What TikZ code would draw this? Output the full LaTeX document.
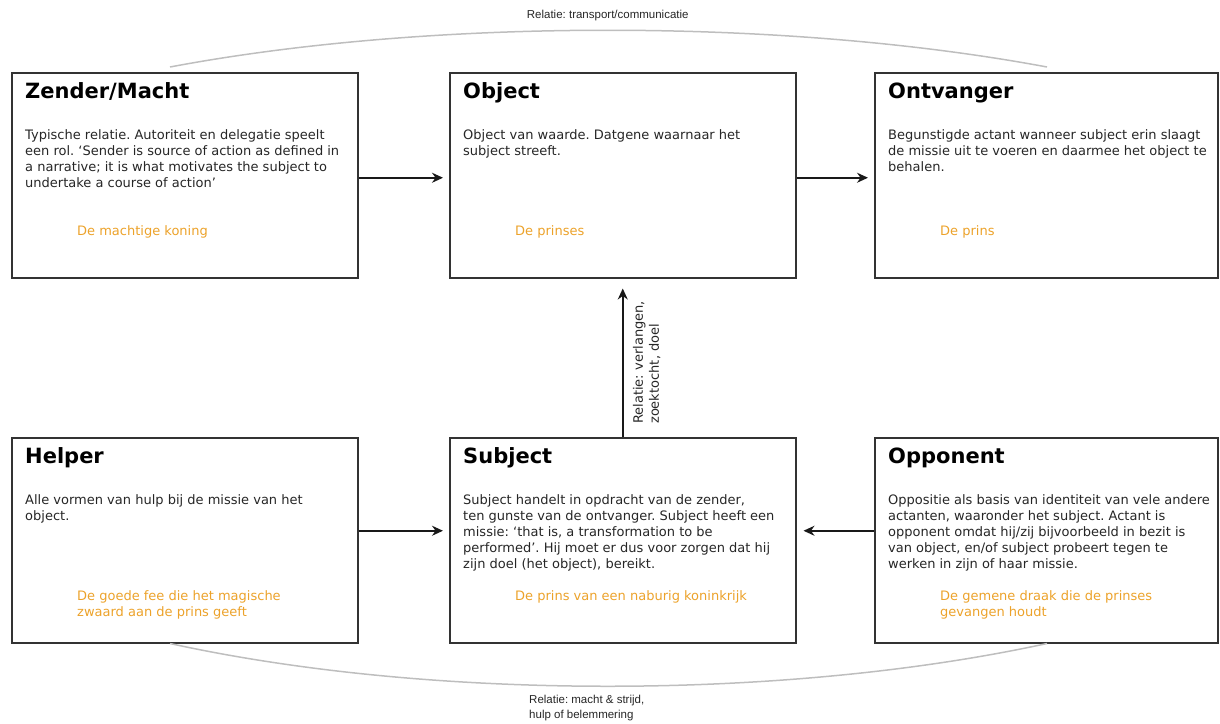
\documentclass[tikz,border=0pt]{standalone}
\usepackage{fontspec}
\setmainfont{DejaVu Sans}
\newfontfamily\relatiefont{Liberation Sans}
\usepackage{tikz}
\usetikzlibrary{arrows.meta, positioning, calc}
\definecolor{roloranje}{RGB}{236,162,42}
\definecolor{kader}{RGB}{51,51,51}
\definecolor{boog}{RGB}{190,190,190}
\frenchspacing
\newcommand{\regels}[1]{\parbox[t]{360pt}{\raggedright\fontsize{13}{16}\selectfont #1}}
\tikzstyle{actant} = [draw=kader, line width=1.5pt, minimum width=346pt, minimum height=205pt, anchor=north west, inner sep=0pt]
\tikzstyle{titel} = [anchor=base west, inner sep=0pt, font=\fontsize{21}{25}\selectfont\bfseries]
\tikzstyle{omschrijving} = [anchor=base west, inner sep=0pt, text=black!85]
\tikzstyle{rol} = [anchor=base west, inner sep=0pt, text=roloranje]
\tikzstyle{pijl} = [-{Stealth[length=11pt, width=10pt]}, line width=1.5pt, black!90]
\tikzstyle{relatie} = [boog, line width=1.5pt]
\tikzstyle{relatielabel} = [font=\relatiefont\fontsize{11.5}{15}\selectfont, text=black!85, inner sep=0pt]

\begin{document}
\begin{tikzpicture}[x=1pt, y=-1pt]
    \useasboundingbox (0,0) rectangle (1220,723);

    % Bovenste rij
    \node[actant] (zender) at (11,72) {};
    \node[actant] (object) at (449,72) {};
    \node[actant, minimum width=343pt] (ontvanger) at (874,72) {};

    % Onderste rij
    \node[actant] (helper) at (11,437) {};
    \node[actant] (subject) at (449,437) {};
    \node[actant, minimum width=343pt] (opponent) at (874,437) {};

    % Zender/Macht
    \node[titel] (zenderT) at ($(zender.north west)+(14,26)$) {Zender/Macht};
    \node[omschrijving] (zenderO) at ($(zender.north west)+(14,67)$) {\regels{Typische relatie. Autoriteit en delegatie speelt\\een rol. ‘Sender is source of action as defined in\\a narrative; it is what motivates the subject to\\undertake a course of action’}};
    \node[rol] (zenderR) at ($(zender.north west)+(66,163)$) {\regels{De machtige koning}};

    % Object
    \node[titel] (objectT) at ($(object.north west)+(14,26)$) {Object};
    \node[omschrijving] (objectO) at ($(object.north west)+(14,67)$) {\regels{Object van waarde. Datgene waarnaar het\\subject streeft.}};
    \node[rol] (objectR) at ($(object.north west)+(66,163)$) {\regels{De prinses}};

    % Ontvanger
    \node[titel] (ontvangerT) at ($(ontvanger.north west)+(14,26)$) {Ontvanger};
    \node[omschrijving] (ontvangerO) at ($(ontvanger.north west)+(14,67)$) {\regels{Begunstigde actant wanneer subject erin slaagt\\de missie uit te voeren en daarmee het object te\\behalen.}};
    \node[rol] (ontvangerR) at ($(ontvanger.north west)+(66,163)$) {\regels{De prins}};

    % Helper
    \node[titel] (helperT) at ($(helper.north west)+(14,26)$) {Helper};
    \node[omschrijving] (helperO) at ($(helper.north west)+(14,67)$) {\regels{Alle vormen van hulp bij de missie van het\\object.}};
    \node[rol] (helperR) at ($(helper.north west)+(66,163)$) {\regels{De goede fee die het magische\\zwaard aan de prins geeft}};

    % Subject
    \node[titel] (subjectT) at ($(subject.north west)+(14,26)$) {Subject};
    \node[omschrijving] (subjectO) at ($(subject.north west)+(14,67)$) {\regels{Subject handelt in opdracht van de zender,\\ten gunste van de ontvanger. Subject heeft een\\missie: ‘that is, a transformation to be\\performed’. Hij moet er dus voor zorgen dat hij\\zijn doel (het object), bereikt.}};
    \node[rol] (subjectR) at ($(subject.north west)+(66,163)$) {\regels{De prins van een naburig koninkrijk}};

    % Opponent
    \node[titel] (opponentT) at ($(opponent.north west)+(14,26)$) {Opponent};
    \node[omschrijving] (opponentO) at ($(opponent.north west)+(14,67)$) {\regels{Oppositie als basis van identiteit van vele andere\\actanten, waaronder het subject. Actant is\\opponent omdat hij/zij bijvoorbeeld in bezit is\\van object, en/of subject probeert tegen te\\werken in zijn of haar missie.}};
    \node[rol] (opponentR) at ($(opponent.north west)+(66,163)$) {\regels{De gemene draak die de prinses\\gevangen houdt}};

    % Pijlen
    \draw[pijl, shorten >=6pt] ([yshift=-2.5pt]zender.east) -- ([yshift=-2.5pt]object.west);
    \draw[pijl, shorten >=6pt] ([yshift=-2.5pt]object.east) -- ([yshift=-2.5pt]ontvanger.west);
    \draw[pijl, shorten >=10pt] (subject.north) -- (object.south);
    \draw[pijl, shorten >=6pt] ([yshift=9.5pt]helper.east) -- ([yshift=9.5pt]subject.west);
    \draw[pijl, shorten >=7pt] ([yshift=9.5pt]opponent.west) -- ([yshift=9.5pt]subject.east);
    \node[rotate=90, anchor=north west, align=left, inner sep=0pt, font=\fontsize{13}{16}\selectfont, text=black!85] (verlangen) at ($(subject.north)+(10,-13)$) {Relatie: verlangen,\\zoektocht, doel};

    % Relatiebogen
    \coordinate (bovenL) at ($(zender.north west)+(159,-5)$);
    \coordinate (bovenR) at ($(ontvanger.north west)+(173,-5)$);
    \coordinate (onderL) at ($(helper.south west)+(159,0)$);
    \coordinate (onderR) at ($(opponent.south west)+(173,0)$);
    \draw[relatie] (bovenL) .. controls +(260,-49) and +(-262,-49) .. (bovenR) node[midway, above=9pt, relatielabel] (transport) {Relatie: transport/communicatie};
    \draw[relatie] (onderL) .. controls +(260,57) and +(-262,57) .. (onderR) node[midway, below=8pt, xshift=-21pt, relatielabel, align=left] (strijd) {Relatie: macht \& strijd,\\hulp of belemmering};
\end{tikzpicture}
\end{document}
